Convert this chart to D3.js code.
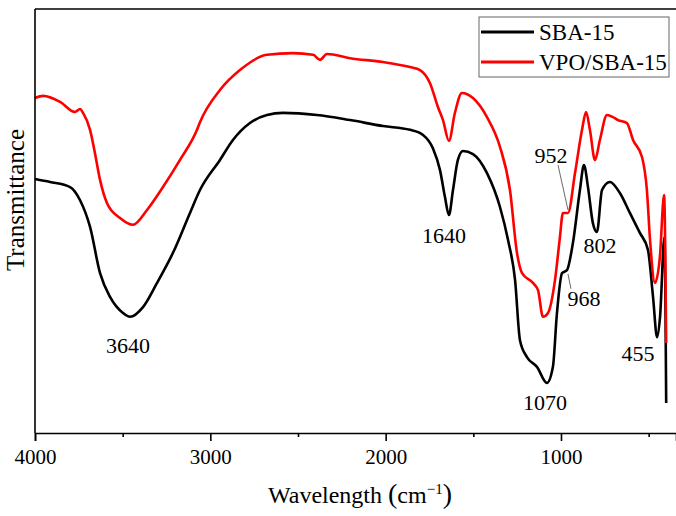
<!DOCTYPE html>
<html>
<head>
<meta charset="utf-8">
<script src="https://cdn.jsdelivr.net/npm/d3@7"></script>
<style>
  body { margin: 0; background: #fff; }
  svg text { font-family: "Liberation Serif", "Times New Roman", serif; }
</style>
</head>
<body>
<div id="chart"></div>
<script>
// wavenumber (cm-1), transmittance (a.u.)
const sbaWave = [4000, 3914, 3800, 3743, 3686, 3629, 3572, 3498, 3458, 3384, 3304, 3213, 3116, 3059, 2945, 2871, 2774, 2677, 2586, 2392, 2203, 2015, 1861, 1787, 1730, 1690, 1662, 1639, 1616, 1588, 1559, 1502, 1422, 1348, 1302, 1262, 1234, 1194, 1137, 1080, 1046, 1023, 994, 966, 932, 892, 869, 846, 818, 795, 766, 721, 664, 607, 550, 504, 475, 452, 435, 410, 400];
const sbaT = [59.9, 59.2, 58.0, 54.9, 48.6, 37.7, 32.1, 28.3, 27.4, 29.7, 35.4, 42.5, 51.9, 57.3, 64.4, 69.1, 73.1, 75.0, 75.5, 75.0, 73.8, 72.4, 71.5, 70.3, 67.1, 62.0, 55.7, 51.4, 57.3, 64.4, 66.5, 65.8, 61.3, 53.3, 45.5, 36.1, 21.9, 17.9, 15.6, 11.8, 15.6, 28.3, 37.7, 38.4, 44.8, 57.3, 63.2, 58.0, 49.5, 47.4, 57.3, 59.2, 56.6, 51.9, 47.2, 43.2, 32.1, 22.6, 27.4, 46.2, 7.1];

const vpoWave = [4000, 3954, 3857, 3772, 3743, 3726, 3686, 3658, 3629, 3589, 3515, 3441, 3361, 3270, 3173, 3076, 3059, 2945, 2831, 2677, 2529, 2414, 2374, 2335, 2203, 2015, 1861, 1804, 1747, 1702, 1673, 1639, 1605, 1565, 1502, 1422, 1348, 1291, 1251, 1222, 1160, 1131, 1103, 1074, 1034, 1006, 989, 960, 920, 880, 857, 835, 806, 778, 738, 703, 675, 624, 589, 538, 510, 492, 464, 436, 412, 400];
const vpoT = [79.0, 79.5, 78.1, 75.7, 76.4, 75.5, 71.5, 66.0, 59.7, 54.2, 50.7, 49.1, 52.6, 58.0, 64.4, 71.5, 73.3, 80.9, 85.6, 89.2, 89.6, 89.2, 88.0, 89.4, 88.4, 87.5, 86.3, 85.6, 82.5, 76.9, 73.8, 68.9, 75.5, 80.2, 79.0, 74.5, 67.5, 57.3, 42.5, 37.7, 35.4, 33.7, 27.4, 28.3, 36.1, 46.2, 51.9, 51.9, 61.3, 71.5, 75.7, 71.5, 64.4, 69.1, 75.0, 74.5, 73.8, 73.1, 69.1, 65.1, 57.3, 45.5, 35.4, 41.5, 56.1, 21.2];

const seriesNames = ["SBA-15", "VPO/SBA-15"];
const seriesColors = ["#000000", "#ff0000"];

const majorTicks = [4000, 3000, 2000, 1000];
const minorTicks = [3500, 2500, 1500, 500];

// peak labels: text, wavenumber and transmittance of the text anchor
const peakLabels = ["3640", "1640", "952", "802", "968", "1070", "455"];
const peakWave = [3470, 1667, 1057, 778, 869, 1091, 561];
const peakT = [18.9, 44.8, 63.7, 42.5, 30.0, 5.4, 17.0];

// leader lines: [wave1, T1, wave2, T2]
const leaders = [[1017, 63.2, 960, 52.6], [960, 37.5, 943, 34.0]];

const W = 676, H = 516;
const margin = { top: 9, right: 0, bottom: 83, left: 35 };
const width = W - margin.left - margin.right;
const height = H - margin.top - margin.bottom;

const svg = d3.select("#chart").append("svg")
  .attr("width", W).attr("height", H);
const g = svg.append("g")
  .attr("transform", `translate(${margin.left},${margin.top})`);

const x = d3.scaleLinear().domain([4000, 344]).range([0, width]);
const y = d3.scaleLinear().domain([0, 100]).range([height, 0]);

const line = d3.line()
  .x((d) => x(d[0]))
  .y((d) => y(d[1]))
  .curve(d3.curveMonotoneX);

const series = [d3.zip(sbaWave, sbaT), d3.zip(vpoWave, vpoT)];

series.forEach((s, i) => {
  g.append("path")
    .datum(s)
    .attr("fill", "none")
    .attr("stroke", seriesColors[i])
    .attr("stroke-width", 2.6)
    .attr("stroke-linejoin", "round")
    .attr("d", line);
});

// bottom axis
const xAxis = g.append("g")
  .attr("transform", `translate(0,${height})`)
  .call(d3.axisBottom(x).tickValues(majorTicks).tickSize(8).tickPadding(8).tickFormat(d3.format("d")));
xAxis.select(".domain").attr("stroke-width", 1.6);
xAxis.selectAll(".tick line").attr("stroke-width", 1.6);
xAxis.selectAll("text").style("font-size", "21px").attr("fill", "#000");

g.append("g")
  .attr("transform", `translate(0,${height})`)
  .call(d3.axisBottom(x).tickValues(minorTicks).tickSize(4).tickFormat(""))
  .call((a) => a.select(".domain").remove())
  .selectAll(".tick line").attr("stroke-width", 1.6);

// left and top frame
g.append("line").attr("x1", 0).attr("x2", 0).attr("y1", 0).attr("y2", height)
  .attr("stroke", "#000").attr("stroke-width", 1.6);
g.append("line").attr("x1", 0).attr("x2", width).attr("y1", 0).attr("y2", 0)
  .attr("stroke", "#000").attr("stroke-width", 1.6);

// peak labels
g.selectAll(".peak")
  .data(peakLabels)
  .enter()
  .append("text")
  .attr("class", "peak")
  .attr("x", (d, i) => x(peakWave[i]))
  .attr("y", (d, i) => y(peakT[i]))
  .attr("text-anchor", "middle")
  .style("font-size", "22px")
  .text((d) => d);

g.selectAll(".leader")
  .data(leaders)
  .enter()
  .append("line")
  .attr("x1", (d) => x(d[0])).attr("y1", (d) => y(d[1]))
  .attr("x2", (d) => x(d[2])).attr("y2", (d) => y(d[3]))
  .attr("stroke", "#444").attr("stroke-width", 0.8);

// axis titles
svg.append("text")
  .attr("transform", "translate(24,200) rotate(-90)")
  .attr("text-anchor", "middle")
  .style("font-size", "25px")
  .text("Transmittance");

const xt = svg.append("text")
  .attr("x", 360).attr("y", 503)
  .attr("text-anchor", "middle")
  .style("font-size", "24px");
xt.append("tspan").text("Wavelength ");
xt.append("tspan").style("font-size", "28px").text("(");
xt.append("tspan").text("cm");
xt.append("tspan").attr("dy", -9).style("font-size", "15px").text("\u22121");
xt.append("tspan").attr("dy", 9).style("font-size", "28px").text(")");

// legend
const legend = svg.append("g").attr("transform", "translate(479,17)");
legend.append("rect")
  .attr("width", 190).attr("height", 60)
  .attr("fill", "#fff").attr("stroke", "#666").attr("stroke-width", 1);
seriesNames.forEach((name, i) => {
  const row = legend.append("g").attr("transform", `translate(0,${15 + i * 30})`);
  row.append("line").attr("x1", 2).attr("x2", 55)
    .attr("stroke", seriesColors[i]).attr("stroke-width", 3);
  row.append("text").attr("x", 60).attr("y", 8)
    .style("font-size", "23px").text(name);
});
</script>
</body>
</html>
